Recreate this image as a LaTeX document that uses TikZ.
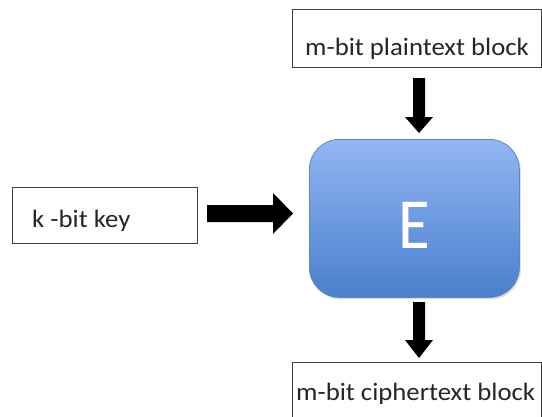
\documentclass[tikz,border=0pt]{standalone}
\usepackage{fontspec}
\setmainfont{Carlito}
\usetikzlibrary{shadows}
\definecolor{etop}{HTML}{92B6F2}
\definecolor{ebot}{HTML}{4A7FCC}
\definecolor{eedge}{HTML}{5F86C0}
\tikzset{
  label box/.style={draw=black!75, line width=1.2pt, fill=white, inner sep=0pt},
  label text/.style={anchor=base west, font=\fontsize{25}{29}\selectfont, text=black!85, inner sep=0pt, xscale=1.07},
  fat arrow/.style={fill=black, draw=none},
}
\begin{document}
\begin{tikzpicture}[x=1pt,y=-1pt]
\useasboundingbox (0,0) rectangle (542,416);
% boxes
\node[label box, minimum width=249pt, minimum height=58pt, anchor=north west] (plain) at (292,9) {};
\node[label text] (plaint) at (305,55) {m-bit plaintext block};
\node[label box, minimum width=185pt, minimum height=56pt, anchor=north west] (key) at (12,187) {};
\node[label text] (keyt) at (32,227) {k -bit key};
\node[label box, minimum width=249pt, minimum height=56pt, anchor=north west] (ciph) at (292,362) {};
\node[label text] (ciph t) at (296,400) {m-bit ciphertext block};
% E box
\node[draw=eedge, line width=0.8pt, rounded corners=30pt, top color=etop, bottom color=ebot,
  minimum width=210pt, minimum height=158pt, anchor=north west,
  drop shadow={shadow xshift=1.5pt, shadow yshift=-2pt, opacity=0.25}] (E) at (309,139) {};
\node[text=white, font=\fontsize{72}{80}\selectfont, inner sep=0pt, xscale=0.9, anchor=base] (Et) at (414.5,248) {E};
% arrows
\fill[fat arrow] (413,78) -- (425,78) -- (425,117) -- (433,117) -- (419,133) -- (405,117) -- (413,117) -- cycle;
\fill[fat arrow] (413,302) -- (425,302) -- (425,340) -- (433,340) -- (419,358) -- (405,340) -- (413,340) -- cycle;
\fill[fat arrow] (207,205) -- (273,205) -- (273,193) -- (293,213.5) -- (273,234) -- (273,222) -- (207,222) -- cycle;
\end{tikzpicture}
\end{document}
